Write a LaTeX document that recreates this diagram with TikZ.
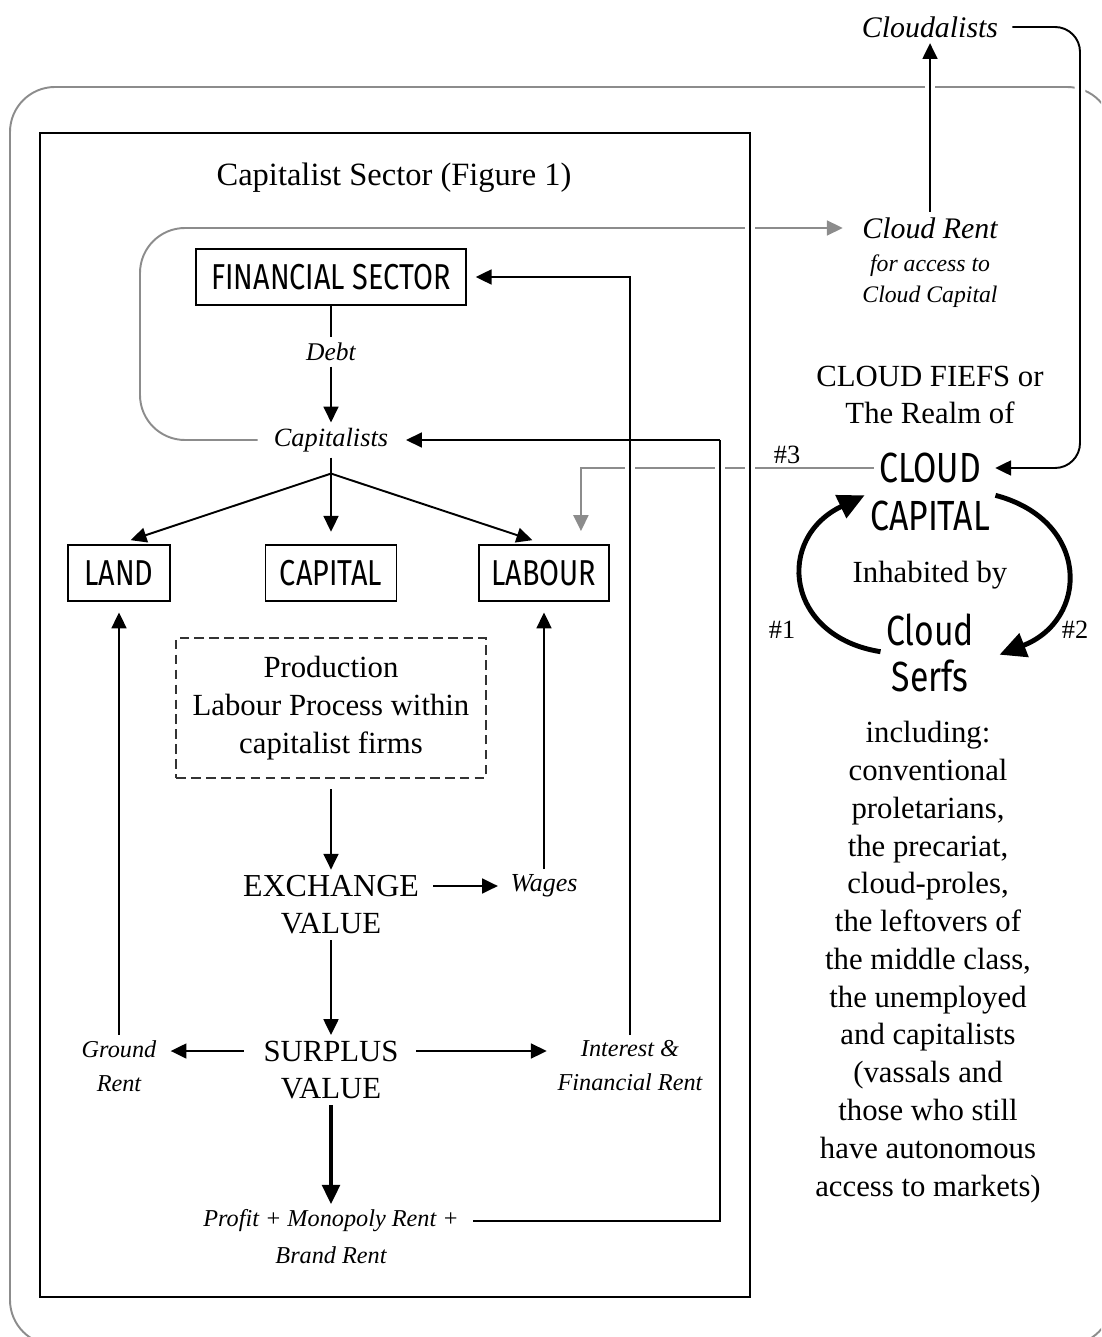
\documentclass[tikz,border=0pt]{standalone}
\usepackage{fontspec}
\setmainfont{Liberation Serif}
\newfontfamily\cloudsans[FakeStretch=0.8]{Fira Sans}
\usepackage{tikz}
\usetikzlibrary{arrows.meta, positioning, calc}

\begin{document}
\begin{tikzpicture}[x=0.02cm, y=-0.02cm,
    sectorbox/.style={draw, line width=1.1pt, inner sep=0pt, minimum height=1.12cm, font=\cloudsans\fontsize{20.5}{22}\selectfont},
    serif/.style={inner sep=3pt, align=center, font=\fontsize{17.5}{21.5}\selectfont},
    slant/.style={inner sep=3pt, align=center, font=\itshape\fontsize{13.8}{19.3}\selectfont},
    cloudtxt/.style={inner sep=3pt, font=\cloudsans\fontsize{24}{28}\selectfont},
    flow/.style={line width=1.1pt, -{Triangle[length=9pt, width=8.5pt]}},
    plainline/.style={line width=1.1pt},
    greyline/.style={black!45, line width=1.1pt},
    greyflow/.style={greyline, -{Triangle[length=9pt, width=8.5pt]}},
    loopflow/.style={line width=2.8pt, -{Triangle[length=15pt, width=14pt]}},
    cutgrey/.style={preaction={draw=white, line width=6pt}}
]
    \useasboundingbox (0,0) rectangle (1101,1337);
    \clip (0,0) rectangle (1101,1337);

    % Outer frame: the cloud fiefs
    \draw[greyline, rounded corners=0.9cm] (10,87) rectangle (1112,1345);

    % Capitalist sector
    \node[serif, font=\fontsize{18.5}{22}\selectfont] (title) at (394,178) {Capitalist Sector (Figure 1)};
    \node[sectorbox, minimum width=5.4cm] (fin) at (331,277) {FINANCIAL SECTOR};
    \node[slant, font=\itshape\fontsize{14.5}{18}\selectfont] (debt) at (331,352) {Debt};
    \node[slant, font=\itshape\fontsize{15}{18}\selectfont] (capitalists) at (331,440) {Capitalists};
    \node[sectorbox, minimum width=2.04cm] (land) at (119,573) {LAND};
    \node[sectorbox, minimum width=2.62cm] (capital) at (331,573) {CAPITAL};
    \node[sectorbox, minimum width=2.6cm] (labour) at (544,573) {LABOUR};
    \node[serif, draw=black!80, line width=0.9pt, dash pattern=on 5.5pt off 3pt,
          minimum width=6.2cm, minimum height=2.8cm] (production) at (331,708)
          {Production\\Labour Process within\\capitalist firms};
    \node[serif, font=\fontsize{18.2}{21.5}\selectfont] (exchange) at (331,886) {EXCHANGE};
    \node[serif] (exchangevalue) at (331,924) {VALUE};
    \node[slant, font=\itshape\fontsize{14.8}{18}\selectfont] (wages) at (544,886) {Wages};
    \node[serif] (surplus) at (331,1051) {SURPLUS};
    \node[serif] (surplusvalue) at (331,1089) {VALUE};
    \node[slant] (ground) at (119,1066) {Ground\\Rent};
    \node[slant] (interest) at (630,1066) {Interest \&\\Financial Rent};
    \node[slant] (profit) at (331,1221) {Profit + Monopoly Rent +};
    \node[slant] (brand) at (331,1255) {Brand Rent};

    % Cloud side
    \node[slant, font=\itshape\fontsize{17}{20}\selectfont] (cloudalists) at (930,27) {Cloudalists};
    \node[slant, font=\itshape\fontsize{17}{20}\selectfont] (rent) at (930,228) {Cloud Rent};
    \node[slant, font=\itshape\fontsize{13.5}{18}\selectfont] (rentnote) at (930,281) {for access to\\Cloud Capital};
    \node[serif] (fiefs) at (930,395) {CLOUD FIEFS or\\The Realm of};
    \node[cloudtxt] (cloud) at (930,468) {CLOUD};
    \node[cloudtxt] (cloudcapital) at (930,516) {CAPITAL};
    \node[serif] (inhabited) at (930,575) {Inhabited by};
    \node[cloudtxt] (cloudserf) at (930,630) {Cloud};
    \node[cloudtxt] (serfs) at (930,676) {Serfs};
    \node[serif] (including) at (928,962) {including:\\conventional\\proletarians,\\the precariat,\\cloud-proles,\\the leftovers of\\the middle class,\\the unemployed\\and capitalists\\(vassals and\\those who still\\have autonomous\\access to markets)};
    \node[serif, font=\fontsize{15}{18}\selectfont] (hash3) at (787,455) {\#3};
    \node[serif, font=\fontsize{15}{18}\selectfont] (hash1) at (782,630) {\#1};
    \node[serif, font=\fontsize{15}{18}\selectfont] (hash2) at (1075,630) {\#2};

    % Grey links
    \coordinate (loop) at (140,228);
    \draw[greyflow, rounded corners=0.9cm, shorten <=6pt, shorten >=8pt] (capitalists.west) -| (loop) -- (rent.west);
    \draw[greyflow] (cloud.west) -| ([xshift=-0.58cm, yshift=0.26cm]labour.north east);

    % Frame of the capitalist sector
    \draw[line width=1.4pt, cutgrey] (40,133) rectangle (750,1297);

    % Black links crossing the grey ones
    \draw[flow, cutgrey] (rent.north) -- (cloudalists.south);
    \coordinate (corner) at (1080,27);
    \draw[flow, cutgrey, rounded corners=0.5cm, shorten <=5pt, shorten >=5pt] (cloudalists.east) -- (corner) |- (cloud.east);
    \draw[flow, cutgrey, shorten >=5pt] (interest.north) |- (fin.east);
    \coordinate (back) at (720,440);
    \draw[plainline, cutgrey, shorten <=5pt] (profit.east) -| (back);
    \draw[flow, shorten >=7pt] (back) -- (capitalists.east);

    % Flows inside the sector
    \draw[plainline] (fin.south) -- (debt.north);
    \draw[flow] (debt.south) -- (capitalists.north);
    \coordinate (fan) at ($(capitalists.south)+(0,16)$);
    \draw[plainline] (capitalists.south) -- (fan);
    \foreach \target in {land, capital, labour}
        \draw[flow, shorten >=7pt] (fan) -- (\target.north);
    \draw[flow, shorten <=6pt] (production.south) -- (exchange.north);
    \draw[flow, shorten <=5pt, shorten >=4pt] (exchange.east) -- (wages.west);
    \draw[flow, shorten >=6pt] (wages.north) -- (labour.south);
    \draw[flow] (exchangevalue.south) -- (surplus.north);
    \draw[flow, shorten <=8pt, shorten >=5pt] (surplus.west) -- (surplus.west -| ground.east);
    \draw[flow, shorten <=7pt, shorten >=3pt] (surplus.east) -- (surplus.east -| interest.west);
    \draw[flow, shorten >=6pt] (ground.north) -- (land.south);
    \draw[line width=2.2pt, -{Triangle[length=11pt, width=10pt]}] (surplusvalue.south) -- (profit.north);

    % Cloud capital cycle
    \draw[loopflow] (cloudserf.south west) .. controls +(-95,-15) and +(-90,43) .. (cloudcapital.north west);
    \draw[loopflow] (cloudcapital.north east) .. controls +(95,25) and +(90,-35) .. ($(cloudserf.south east)+(20,3)$);
\end{tikzpicture}
\end{document}
